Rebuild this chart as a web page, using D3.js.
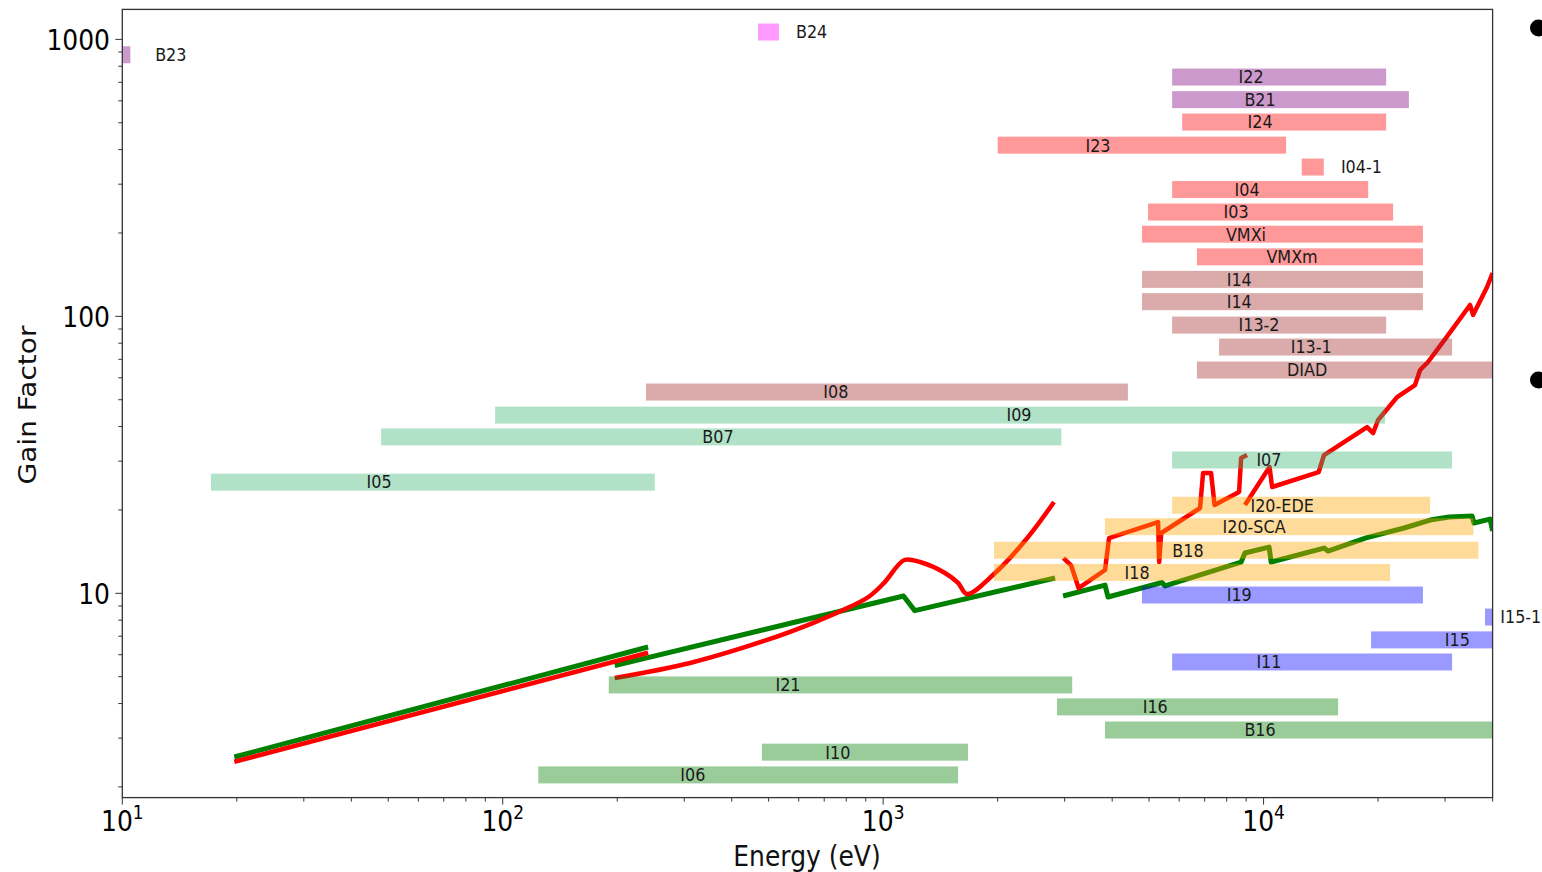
<!DOCTYPE html>
<html>
<head>
<meta charset="utf-8">
<script src="https://cdn.jsdelivr.net/npm/d3@7"></script>
<style>
  body { margin: 0; background: #fff; }
  svg { display: block; font-family: "DejaVu Sans", sans-serif; }
</style>
</head>
<body>
<script>
// beamline bars: name, colour group, energy range (eV), gain position, label position
const barNames = ["B24", "B23", "I22", "B21", "I24", "I23", "I04-1", "I04", "I03", "VMXi", "VMXm",
  "I14", "I14", "I13-2", "I13-1", "DIAD", "I08", "I09", "B07", "I07", "I05",
  "I20-EDE", "I20-SCA", "B18", "I18", "I19", "I15-1", "I15", "I11", "I21", "I16", "B16", "I10", "I06"];
const barGroups = ["violet", "purple", "purple", "purple", "red", "red", "red", "red", "red", "red", "red",
  "brown", "brown", "brown", "brown", "brown", "brown", "seagreen", "seagreen", "seagreen", "seagreen",
  "orange", "orange", "orange", "orange", "blue", "blue", "blue", "blue", "green", "green", "green", "green", "green"];
const barStart = [469, 9.5, 5750, 5750, 6110, 2000, 12600, 5750, 4970, 4790, 6680,
  4790, 4790, 5750, 7640, 6680, 238, 95.5, 47.9, 5750, 17.1,
  5750, 3830, 1956, 1956, 4790, 38200, 19170, 5750, 190, 2865, 3830, 480, 124];
const barEnd = [532, 10.5, 21000, 24100, 21000, 11460, 14400, 18840, 21900, 26240, 26240,
  26240, 26240, 21000, 31300, 50000, 4400, 20860, 2940, 31300, 251,
  27400, 35600, 36700, 21500, 26240, 50000, 50000, 31300, 3140, 15700, 50000, 1671, 1574];
const barGain = [1063, 880, 731, 606, 503, 415, 346, 287, 238, 198, 164,
  136, 113, 93, 77.5, 64, 53.3, 44.0, 36.7, 30.3, 25.2,
  20.8, 17.4, 14.3, 11.9, 9.86, 8.21, 6.79, 5.65, 4.67, 3.89, 3.21, 2.67, 2.21];
const labelEnergy = [590, 12.2, 9270, 9790, 9790, 3670, 15970, 9050, 8470, 8990, 11880,
  8630, 8630, 9730, 13340, 13020, 751, 2275, 368, 10330, 47.3,
  11190, 9440, 6330, 4650, 8630, 41900, 32300, 10330, 562, 5190, 9790, 760, 316];
const sideLabels = ["B24", "B23", "I04-1", "I15-1"];

// gain curves [energy, gain]
const greenSegments = [
  [[19.7, 2.565], [241, 6.40]],
  [[197, 5.48], [1131, 9.78], [1211, 8.66], [2831, 11.36]],
  [[2972, 9.78], [3831, 10.71], [3900, 9.70], [5408, 10.94], [5508, 10.63], [8730, 12.97],
   [8935, 13.98], [10340, 14.69], [10470, 12.97], [14420, 14.57], [14770, 14.21], [18600, 15.85],
   [23410, 17.21], [27400, 18.39], [30730, 18.86], [35320, 19.01], [35740, 17.94], [39390, 18.54], [40000, 16.8]]
];
const redSegments = [
  [[19.7, 2.465], [241, 6.10]],
  [[197, 4.946], [310.8, 5.604], [495, 6.785], [653, 7.81], [784.6, 8.70], [917, 9.72], [1005.6, 10.9],
   [1138, 13.19], [1250, 12.97], [1454, 11.84], [1574, 10.9], [1662, 9.94], [1969, 11.84], [2369, 15.57], [2813, 21.36]],
  [[2979, 13.41], [3119, 12.62], [3264, 10.45], [3831, 12.14], [3925, 15.83], [5281, 18.09], [5316, 12.97],
   [5383, 16.51], [6808, 20.32], [6934, 27.19], [7278, 27.19], [7435, 20.84], [8622, 23.22], [8730, 30.78], [9050, 31.57]],
  [[8935, 20.84], [10370, 28.58], [10530, 24.2], [13960, 27.41], [14420, 31.57], [18710, 39.84], [19410, 37.9],
   [20000, 42.23], [22440, 51.1], [25010, 56.5], [25790, 64.0], [27060, 68.4], [30550, 85.6], [34900, 109.9],
   [35540, 101.2], [38680, 127.6], [40000, 143.3]]
];
// the second red segment is a smooth curve, the others are jagged
const redSmooth = [false, true, false, false];

const xMajor = [10, 100, 1000, 10000];
const xExp = ["1", "2", "3", "4"];
const yMajor = [10, 100, 1000];

const width = 1542, height = 872;
const groupColor = {
  violet: "#ff00ff", purple: "#800080", red: "#ff0000", brown: "#a52a2a",
  seagreen: "#3cb371", orange: "#ffa500", blue: "#0000ff", green: "#008000"
};

const x = d3.scaleLog().domain([10, 40000]).range([122.3, 1492.6]);
const y = d3.scaleLog().domain([1.83, 1283]).range([797.6, 9.4]);
const [x0, x1] = x.range();
const [y1, y0] = y.range();

const svg = d3.select("body").append("svg")
  .attr("width", width)
  .attr("height", height);

svg.append("defs").append("clipPath").attr("id", "plot")
  .append("rect")
  .attr("x", x0).attr("y", y0)
  .attr("width", x1 - x0).attr("height", y1 - y0);

// curves go under the translucent bars
const line = d3.line().x((d) => x(d[0])).y((d) => y(d[1]));
const smoothLine = d3.line().x((d) => x(d[0])).y((d) => y(d[1])).curve(d3.curveCatmullRom.alpha(0.5));
const curves = svg.append("g").attr("clip-path", "url(#plot)");
curves.selectAll("path.green").data(greenSegments).join("path")
  .attr("class", "green")
  .attr("d", line)
  .attr("fill", "none")
  .attr("stroke", "#008000")
  .attr("stroke-width", 5)
  .attr("stroke-linejoin", "round");
curves.selectAll("path.red").data(redSegments).join("path")
  .attr("class", "red")
  .attr("d", (d, i) => (redSmooth[i] ? smoothLine(d) : line(d)))
  .attr("fill", "none")
  .attr("stroke", "#ff0000")
  .attr("stroke-width", 4.5)
  .attr("stroke-linejoin", "round");

const bars = barNames.map((n, i) => ({
  name: n, group: barGroups[i], e0: barStart[i], e1: barEnd[i], g: barGain[i], le: labelEnergy[i]
}));

svg.append("g").attr("clip-path", "url(#plot)")
  .selectAll("rect").data(bars).join("rect")
  .attr("x", (d) => x(d.e0))
  .attr("width", (d) => x(d.e1) - x(d.e0))
  .attr("y", (d) => y(d.g) - 8.5)
  .attr("height", 17)
  .attr("fill", (d) => groupColor[d.group])
  .attr("fill-opacity", 0.4);

svg.append("g").selectAll("text").data(bars).join("text")
  .attr("transform", (d) => `translate(${x(d.le)},${y(d.g)}) scale(1,1.1)`)
  .attr("dy", "0.36em")
  .attr("font-size", 16)
  .attr("fill", "#1a1a1a")
  .attr("text-anchor", (d) => (sideLabels.includes(d.name) ? "start" : "middle"))
  .text((d) => d.name);

// axes
const xMinor = [];
for (let e = 10; e < 40000; e *= 10) for (let k = 2; k <= 9; k++) if (e * k <= 40000) xMinor.push(e * k);
const yMinor = [];
for (let e = 1; e < 1000; e *= 10) for (let k = 2; k <= 9; k++) if (e * k >= 1.83 && e * k <= 1283) yMinor.push(e * k);

const axes = svg.append("g").attr("stroke", "#333").attr("stroke-width", 1);
axes.selectAll("line.xmin").data(xMinor).join("line")
  .attr("x1", (d) => x(d)).attr("x2", (d) => x(d)).attr("y1", y1).attr("y2", y1 + 4);
axes.selectAll("line.xmaj").data(xMajor).join("line")
  .attr("x1", (d) => x(d)).attr("x2", (d) => x(d)).attr("y1", y1).attr("y2", y1 + 7);
axes.selectAll("line.ymin").data(yMinor).join("line")
  .attr("y1", (d) => y(d)).attr("y2", (d) => y(d)).attr("x1", x0).attr("x2", x0 - 4);
axes.selectAll("line.ymaj").data(yMajor).join("line")
  .attr("y1", (d) => y(d)).attr("y2", (d) => y(d)).attr("x1", x0).attr("x2", x0 - 7);

svg.append("rect")
  .attr("x", x0).attr("y", y0)
  .attr("width", x1 - x0).attr("height", y1 - y0)
  .attr("fill", "none")
  .attr("stroke", "#333")
  .attr("stroke-width", 1.3);

const xt = svg.append("g").selectAll("text").data(xMajor).join("text")
  .attr("transform", (d) => `translate(${x(d)},831) scale(1,1.12)`)
  .attr("text-anchor", "middle")
  .attr("font-size", 25)
  .attr("fill", "#000");
xt.append("tspan").text("10");
xt.append("tspan").attr("dy", -11).attr("font-size", 17).text((d, i) => xExp[i]);

svg.append("g").selectAll("text").data(yMajor).join("text")
  .attr("transform", (d) => `translate(110,${y(d)}) scale(1,1.12)`)
  .attr("dy", "0.365em")
  .attr("text-anchor", "end")
  .attr("font-size", 25)
  .attr("fill", "#000")
  .text((d) => d);

svg.append("text")
  .attr("transform", "translate(807,866) scale(1,1.12)")
  .attr("text-anchor", "middle")
  .attr("font-size", 25)
  .attr("fill", "#111")
  .text("Energy (eV)");

svg.append("text")
  .attr("transform", "translate(36,405) scale(1,1.12) rotate(-90)")
  .attr("text-anchor", "middle")
  .attr("font-size", 25)
  .attr("fill", "#111")
  .text("Gain Factor");

// slide bullets cut at the right edge
svg.selectAll("circle.bullet").data([28, 380]).join("circle")
  .attr("class", "bullet")
  .attr("cx", 1538.5).attr("cy", (d) => d).attr("r", 8.5)
  .attr("fill", "#000");
</script>
</body>
</html>
